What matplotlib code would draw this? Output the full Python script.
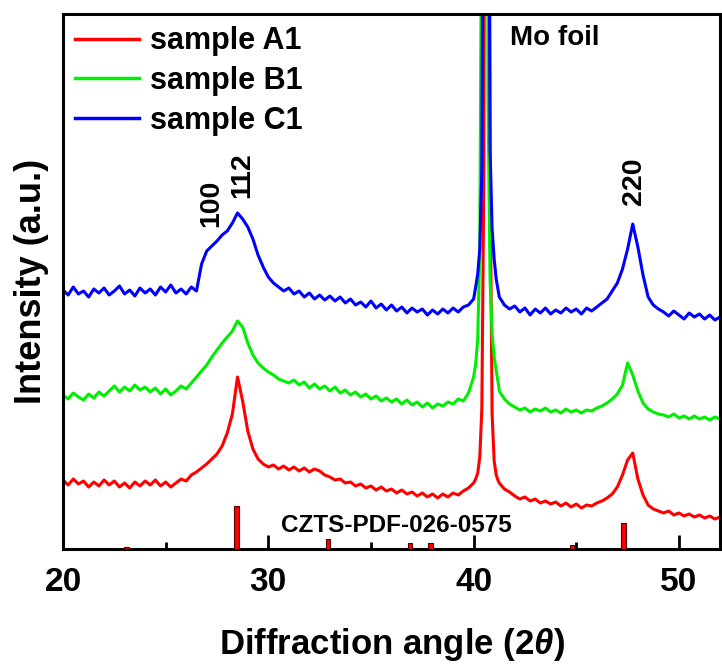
import numpy as np
import matplotlib
matplotlib.use("Agg")
import matplotlib.pyplot as plt
from matplotlib.ticker import MultipleLocator, NullLocator

plt.rcParams['font.family'] = ['Liberation Sans', 'DejaVu Sans']
plt.rcParams['font.weight'] = 'bold'
plt.rcParams['mathtext.fontset'] = 'custom'
plt.rcParams['mathtext.rm'] = 'Liberation Sans:bold'
plt.rcParams['mathtext.it'] = 'Liberation Sans:italic:bold'

# 2-theta sampling segments (before Mo peak, Mo peak, after Mo peak)
two_theta_pre = np.linspace(20.0, 39.75, 80)
two_theta_mo = np.linspace(40.0, 41.2, 13)
two_theta_post = np.linspace(41.25, 52.0, 44)

# sample A1 (red)
a1_pre = [69, 64, 70, 65, 68, 62, 67, 63,
          69, 64, 68, 62, 66, 61, 67, 63,
          68, 64, 69, 63, 67, 62, 66, 70,
          68, 74, 77, 81, 85, 90, 95, 103,
          116, 135, 172, 148, 118, 100, 90, 85,
          82, 84, 80, 83, 79, 82, 78, 81,
          77, 80, 78, 74, 72, 69, 70, 66,
          67, 63, 65, 61, 63, 59, 62, 58,
          60, 56, 59, 55, 57, 53, 56, 52,
          55, 51, 55, 52, 56, 54, 58, 61]
a1_mo = [66, 70, 76, 92, 140, 380, 1500, 1500, 380, 135, 88, 74, 68]
a1_post = [66, 60, 57, 53,
           50, 52, 48, 50, 46, 48, 45, 47,
           43, 46, 42, 45, 41, 44, 43, 46,
           48, 51, 55, 62, 74, 89, 96, 70,
           54, 44, 40, 38, 36, 38, 34, 36,
           33, 35, 32, 34, 31, 33, 30, 32]

# sample B1 (green)
b1_pre = [154, 150, 156, 152, 149, 155, 151, 157,
          153, 158, 163, 157, 162, 158, 164, 159,
          162, 157, 161, 155, 160, 154, 158, 163,
          160, 166, 172, 178, 184, 192, 199, 206,
          212, 218, 228, 222, 206, 194, 186, 181,
          177, 174, 170, 168, 166, 169, 164, 167,
          161, 165, 160, 163, 158, 162, 156, 159,
          154, 157, 152, 155, 150, 153, 148, 151,
          147, 150, 145, 149, 144, 147, 142, 146,
          141, 145, 143, 147, 145, 150, 148, 156]
b1_mo = [172, 185, 210, 300, 700, 2500, 1500, 450, 270, 215, 192, 178, 166]
b1_post = [158, 150, 145, 142,
           139, 141, 137, 140, 138, 141, 137, 139,
           136, 140, 137, 139, 136, 139, 138, 141,
           143, 146, 150, 155, 164, 186, 174, 158,
           146, 140, 137, 135, 134, 132, 135, 131,
           133, 130, 133, 130, 132, 129, 132, 130]

# sample C1 (blue)
c1_pre = [259, 254, 262, 255, 258, 252, 260, 256,
          261, 254, 258, 263, 255, 259, 253, 261,
          256, 260, 254, 262, 257, 264, 256, 260,
          255, 262, 258, 285, 298, 303, 308, 314,
          318, 326, 336, 330, 322, 310, 294, 282,
          272, 266, 262, 258, 261, 255, 258, 252,
          256, 250, 254, 249, 253, 248, 252, 246,
          250, 244, 247, 242, 248, 241, 245, 239,
          244, 238, 242, 236, 241, 237, 240, 234,
          239, 235, 240, 236, 241, 237, 242, 244]
c1_mo = [250, 262, 275, 300, 380, 900, 2500, 900, 400, 320, 290, 270, 258]
c1_post = [252, 244, 240, 243,
           237, 241, 234, 240, 236, 241, 235, 239,
           236, 241, 237, 240, 235, 241, 238, 242,
           246, 250, 258, 266, 280, 300, 325, 302,
           274, 252, 244, 240, 237, 233, 238, 234,
           230, 236, 232, 235, 230, 234, 229, 232]

series_labels = ['sample A1', 'sample B1', 'sample C1']
series_colors = ['#ff0000', '#00ee00', '#0000ff']

# CZTS reference pattern (PDF 026-0575)
ref_pos = [23.1, 28.45, 32.9, 36.9, 37.9, 44.8, 47.3]
ref_int = [2, 43, 10, 6, 6, 4, 26]

# peak labels
hkl_labels = ['100', '112', '220']
hkl_pos = [27.2, 28.75, 47.82]
hkl_y = [346, 374, 368]

fig = plt.figure(figsize=(7.22, 6.64), dpi=100)
ax = fig.add_axes([63/722, 115/664, 657/722, 535/664])

x_all = np.concatenate([two_theta_pre, two_theta_mo, two_theta_post])
for pre, mo, post, lab, col in zip([a1_pre, b1_pre, c1_pre],
                                    [a1_mo, b1_mo, c1_mo],
                                    [a1_post, b1_post, c1_post],
                                    series_labels, series_colors):
    y = np.concatenate([pre, mo, post])
    ax.plot(x_all, y, color=col, lw=2.2, label=lab)

ax.bar(ref_pos, ref_int, width=0.22, color='#ff0000', edgecolor='#500000',
       linewidth=0.8, zorder=3)

ax.set_xlim(20, 52)
ax.set_ylim(0, 535)
ax.xaxis.set_major_locator(MultipleLocator(10))
ax.xaxis.set_minor_locator(MultipleLocator(5))
ax.yaxis.set_major_locator(NullLocator())
ax.tick_params(axis='x', which='major', direction='in', length=10, width=2,
               pad=13, labelsize=24)
ax.tick_params(axis='x', which='minor', direction='in', length=5, width=2)
for s in ax.spines.values():
    s.set_linewidth(2.2)

ax.set_xlabel(r'Diffraction angle (2$\mathit{\theta}$)', fontsize=25,
              fontweight='bold', labelpad=20)
ax.set_ylabel('Intensity (a.u.)', fontsize=26, fontweight='bold', labelpad=10)

for t, xp, yp in zip(hkl_labels, hkl_pos, hkl_y):
    ax.text(xp, yp, t, rotation=90, ha='center', va='center', fontsize=20.5,
            fontweight='bold')
ax.text(43.93, 511, 'Mo foil', ha='center', va='center', fontsize=20,
        fontweight='bold')
ax.text(36.26, 24, 'CZTS-PDF-026-0575', ha='center', va='center', fontsize=17.5,
        fontweight='bold')

leg = ax.legend(loc='upper left', bbox_to_anchor=(0.0, 1.0), frameon=False,
                fontsize=22, handlelength=2.1, handletextpad=0.36,
                labelspacing=0.32, borderaxespad=0.25, borderpad=0.15)
for line in leg.get_lines():
    line.set_linewidth(2.5)

fig.savefig('out.png', dpi=100)
